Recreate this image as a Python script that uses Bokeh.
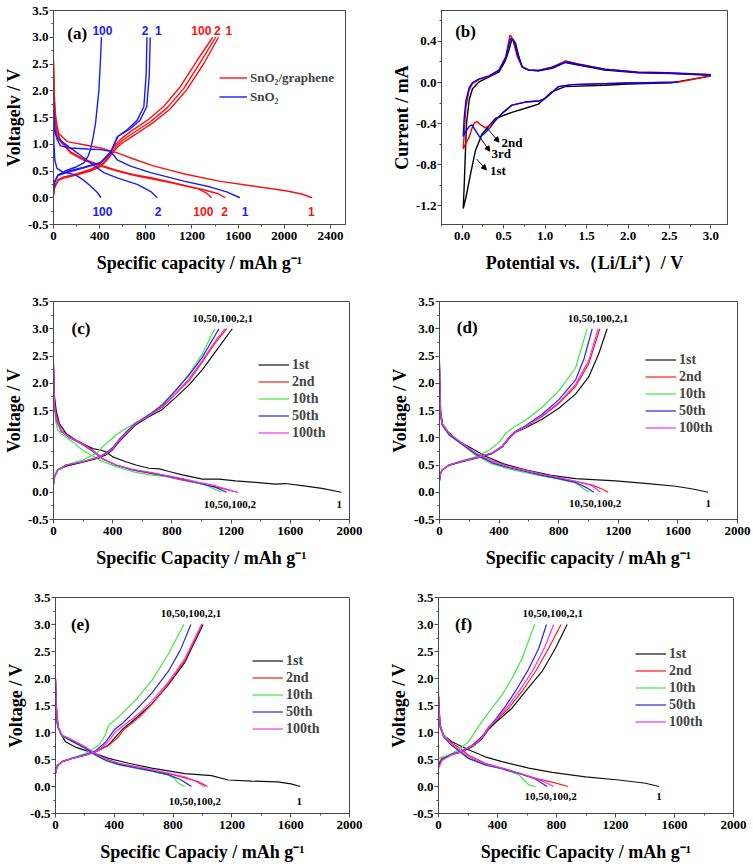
from bokeh.plotting import figure
from bokeh.models import Range1d, FixedTicker, Legend, LegendItem, Label, Arrow, NormalHead, PrintfTickFormatter
from bokeh.layouts import column, row
from bokeh.embed import file_html
from bokeh.resources import INLINE

# ---------------- data: panel (a)  (capacity mAh/g, voltage V) ----------------
a_red_dis_1 = [(0,2.6),(5,2.0),(15,1.6),(30,1.35),(46,1.2),(118,1.05),(263,0.99),(407,0.93),(552,0.84),(700,0.72),(858,0.60),(1000,0.52),(1146,0.44),(1435,0.31),(1724,0.22),(2013,0.13),(2150,0.07),(2240,0.0)]
a_red_dis_2 = [(0,2.5),(5,1.9),(15,1.5),(30,1.25),(61,1.08),(147,0.86),(263,0.72),(407,0.61),(552,0.51),(696,0.43),(858,0.37),(1000,0.30),(1150,0.22),(1300,0.15),(1420,0.08),(1490,0.0)]
a_red_dis_100 = [(0,2.4),(5,1.8),(15,1.45),(30,1.2),(61,1.05),(147,0.84),(263,0.70),(407,0.59),(552,0.50),(696,0.42),(858,0.35),(1000,0.29),(1150,0.22),(1250,0.17),(1330,0.08),(1370,0.0)]
a_red_chg_1 = [(0,0.05),(10,0.2),(40,0.32),(90,0.37),(205,0.43),(320,0.50),(407,0.58),(470,0.72),(510,0.83),(565,0.97),(620,1.06),(720,1.2),(860,1.4),(1010,1.66),(1155,2.02),(1300,2.5),(1430,3.0)]
a_red_chg_2 = [(0,0.05),(10,0.2),(40,0.33),(90,0.38),(205,0.44),(320,0.52),(407,0.60),(460,0.72),(494,0.82),(551,0.98),(600,1.08),(696,1.22),(840,1.42),(984,1.68),(1128,2.04),(1272,2.53),(1405,3.0)]
a_red_chg_100 = [(0,0.06),(10,0.21),(40,0.34),(90,0.39),(205,0.45),(320,0.53),(400,0.62),(450,0.74),(485,0.84),(540,1.0),(585,1.1),(675,1.25),(815,1.45),(960,1.72),(1100,2.08),(1245,2.57),(1380,3.0)]
a_blue_dis_1 = [(0,1.9),(5,1.45),(15,1.25),(30,1.1),(60,0.97),(147,0.93),(300,0.91),(407,0.90),(494,0.87),(552,0.71),(667,0.59),(841,0.47),(1130,0.31),(1361,0.20),(1500,0.11),(1615,0.0)]
a_blue_dis_2 = [(0,1.6),(5,1.35),(15,1.2),(40,1.1),(90,1.02),(205,0.84),(321,0.65),(436,0.47),(552,0.37),(725,0.25),(840,0.12),(900,0.0)]
a_blue_dis_100 = [(0,1.6),(4,1.0),(12,0.7),(30,0.55),(80,0.48),(150,0.45),(205,0.41),(260,0.33),(321,0.22),(380,0.10),(410,0.0)]
a_blue_chg_1 = [(0,0.15),(10,0.3),(40,0.43),(118,0.49),(263,0.57),(407,0.66),(494,0.85),(560,1.15),(660,1.28),(750,1.45),(808,1.7),(830,2.3),(838,3.0)]
a_blue_chg_2 = [(0,0.15),(10,0.3),(40,0.42),(118,0.47),(263,0.56),(407,0.65),(494,0.84),(552,1.14),(638,1.27),(725,1.45),(783,1.70),(803,2.31),(810,3.0)]
a_blue_chg_100 = [(0,0.2),(10,0.3),(40,0.42),(100,0.5),(200,0.58),(263,0.65),(300,0.78),(321,0.90),(345,1.15),(364,1.39),(393,2.0),(408,2.62),(415,3.0)]

# ---------------- data: panel (b)  (potential V, current mA) ----------------
b_1st = [(3.0,0.065),(2.52,-0.003),(2.0,-0.015),(1.72,-0.026),(1.24,-0.04),(1.08,-0.09),(0.92,-0.21),(0.80,-0.24),(0.60,-0.29),(0.40,-0.35),(0.24,-0.5),(0.16,-0.66),(0.10,-0.89),(0.044,-1.12),(0.012,-1.225),(0.024,-1.0),(0.036,-0.73),(0.052,-0.40),(0.084,-0.17),(0.124,-0.06),(0.204,0.007),(0.324,0.055),(0.444,0.104),(0.524,0.218),(0.564,0.315),(0.596,0.413),(0.612,0.42),(0.644,0.38),(0.684,0.25),(0.724,0.153),(0.804,0.12),(0.924,0.114),(1.084,0.137),(1.244,0.195),(1.40,0.17),(1.72,0.12),(2.12,0.094),(2.52,0.088),(3.0,0.07)]
b_2nd = [(3.0,0.065),(2.6,0.003),(2.0,-0.005),(1.32,-0.02),(1.16,-0.04),(1.08,-0.1),(1.0,-0.156),(0.92,-0.18),(0.76,-0.19),(0.60,-0.22),(0.48,-0.30),(0.36,-0.40),(0.28,-0.44),(0.22,-0.41),(0.18,-0.38),(0.15,-0.39),(0.124,-0.43),(0.084,-0.53),(0.044,-0.59),(0.012,-0.645),(0.024,-0.5),(0.044,-0.24),(0.084,-0.075),(0.124,-0.01),(0.204,0.03),(0.324,0.06),(0.444,0.12),(0.524,0.25),(0.556,0.38),(0.576,0.46),(0.596,0.445),(0.624,0.38),(0.664,0.25),(0.724,0.15),(0.804,0.12),(0.924,0.12),(1.084,0.15),(1.244,0.21),(1.30,0.20),(1.404,0.18),(1.72,0.13),(2.12,0.10),(2.44,0.095),(2.52,0.09),(3.0,0.075)]
b_3rd = [(2.6,0.003),(2.0,-0.005),(1.32,-0.02),(1.16,-0.04),(1.08,-0.1),(1.0,-0.156),(0.92,-0.18),(0.76,-0.19),(0.60,-0.22),(0.48,-0.30),(0.40,-0.37),(0.324,-0.45),(0.26,-0.50),(0.212,-0.53),(0.17,-0.48),(0.116,-0.41),(0.08,-0.43),(0.04,-0.48),(0.012,-0.525),(0.024,-0.34),(0.044,-0.18),(0.084,-0.05),(0.124,0.0),(0.204,0.035),(0.324,0.065),(0.444,0.12),(0.524,0.24),(0.560,0.36),(0.584,0.43),(0.610,0.42),(0.64,0.35),(0.68,0.24),(0.724,0.15),(0.804,0.12),(0.924,0.115),(1.084,0.15),(1.26,0.2),(1.404,0.175),(1.72,0.13),(2.12,0.10),(2.48,0.095),(3.0,0.075)]

# ---------------- data: panel (c) ----------------
c_dis_1st = [(0,2.4),(3,2.0),(7,1.75),(18,1.5),(40,1.26),(85,1.08),(153,0.955),(220,0.86),(265,0.80),(310,0.78),(355,0.74),(400,0.65),(489,0.56),(557,0.50),(646,0.44),(714,0.43),(781,0.38),(871,0.32),(1006,0.24),(1118,0.24),(1230,0.21),(1365,0.18),(1500,0.15),(1567,0.16),(1679,0.12),(1814,0.07),(1945,0.0)]
c_dis_2nd = [(0,2.3),(3,1.9),(7,1.6),(22,1.38),(52,1.14),(108,1.02),(198,0.89),(265,0.77),(332,0.62),(422,0.50),(534,0.41),(646,0.35),(759,0.29),(871,0.22),(983,0.16),(1095,0.10),(1245,0.0)]
c_dis_10th = [(0,2.2),(3,1.8),(8,1.5),(15,1.3),(29,1.14),(63,1.05),(130,0.92),(198,0.77),(310,0.59),(422,0.47),(534,0.38),(646,0.32),(759,0.29),(871,0.24),(1028,0.13),(1135,0.0)]
c_dis_50th = [(0,2.3),(3,1.9),(8,1.55),(22,1.3),(52,1.12),(108,1.0),(198,0.87),(265,0.75),(332,0.61),(422,0.50),(534,0.41),(646,0.36),(759,0.30),(871,0.24),(983,0.17),(1095,0.09),(1170,0.0)]
c_dis_100th = [(0,2.35),(3,1.9),(8,1.55),(22,1.32),(52,1.13),(108,1.01),(198,0.88),(265,0.76),(332,0.61),(422,0.50),(534,0.42),(646,0.37),(759,0.31),(871,0.25),(983,0.18),(1095,0.12),(1238,0.0)]
c_chg_1st = [(0,0.14),(7,0.29),(29,0.41),(85,0.48),(198,0.55),(310,0.63),(355,0.69),(400,0.78),(444,0.93),(489,1.06),(557,1.24),(646,1.39),(736,1.52),(826,1.74),(916,1.97),(1006,2.25),(1095,2.58),(1208,3.0)]
c_chg_2nd = [(0,0.16),(7,0.29),(29,0.41),(85,0.50),(198,0.56),(310,0.65),(355,0.71),(400,0.80),(444,0.95),(489,1.08),(557,1.26),(646,1.41),(736,1.56),(826,1.81),(916,2.05),(1006,2.39),(1095,2.75),(1170,3.0)]
c_chg_10th = [(0,0.15),(18,0.38),(85,0.50),(198,0.59),(287,0.71),(355,0.89),(422,1.05),(489,1.17),(602,1.35),(714,1.56),(826,1.87),(916,2.17),(1006,2.54),(1089,3.0)]
c_chg_50th = [(0,0.15),(7,0.29),(29,0.41),(85,0.50),(198,0.56),(310,0.65),(355,0.72),(400,0.82),(444,0.97),(489,1.10),(557,1.27),(646,1.42),(736,1.60),(826,1.87),(916,2.15),(1006,2.48),(1118,3.0)]
c_chg_100th = [(0,0.16),(7,0.29),(29,0.41),(85,0.50),(198,0.56),(310,0.65),(355,0.71),(400,0.80),(444,0.95),(489,1.08),(557,1.26),(646,1.41),(736,1.57),(826,1.82),(916,2.08),(1006,2.42),(1095,2.78),(1158,3.0)]

# ---------------- data: panel (d) ----------------
d_dis_1st = [(0,2.4),(3,1.9),(8,1.5),(20,1.25),(60,1.1),(120,0.95),(200,0.83),(309,0.66),(430,0.52),(577,0.41),(750,0.31),(913,0.25),(1181,0.21),(1400,0.16),(1584,0.11),(1700,0.06),(1803,0.0)]
d_dis_2nd = [(0,2.3),(3,1.8),(8,1.4),(18,1.25),(63,1.08),(152,0.90),(242,0.72),(353,0.57),(465,0.47),(577,0.40),(689,0.33),(801,0.26),(913,0.20),(1025,0.13),(1090,0.06),(1132,0.0)]
d_dis_10th = [(0,2.2),(3,1.8),(8,1.4),(18,1.22),(63,1.05),(152,0.87),(242,0.68),(353,0.52),(465,0.43),(577,0.36),(689,0.30),(801,0.24),(913,0.17),(960,0.08),(1002,0.0)]
d_dis_50th = [(0,2.3),(3,1.8),(8,1.4),(18,1.24),(63,1.06),(152,0.88),(242,0.70),(353,0.54),(465,0.45),(577,0.38),(689,0.31),(801,0.25),(913,0.18),(990,0.08),(1036,0.0)]
d_dis_100th = [(0,2.35),(3,1.85),(8,1.45),(18,1.26),(63,1.08),(152,0.90),(242,0.72),(353,0.57),(465,0.47),(577,0.40),(689,0.33),(801,0.27),(913,0.20),(1025,0.12),(1080,0.0)]
d_chg_1st = [(0,0.20),(8,0.35),(18,0.41),(63,0.49),(152,0.56),(242,0.62),(353,0.71),(421,0.83),(465,0.98),(510,1.10),(577,1.18),(689,1.34),(801,1.54),(913,1.80),(1002,2.12),(1070,2.55),(1125,3.0)]
d_chg_2nd = [(0,0.23),(8,0.35),(18,0.41),(63,0.50),(152,0.57),(242,0.63),(353,0.72),(421,0.84),(465,0.99),(510,1.11),(577,1.20),(689,1.39),(801,1.63),(913,1.94),(1002,2.36),(1076,3.0)]
d_chg_10th = [(0,0.22),(8,0.36),(18,0.42),(63,0.50),(152,0.58),(242,0.65),(330,0.76),(400,0.92),(445,1.08),(490,1.18),(577,1.32),(689,1.56),(801,1.86),(913,2.28),(991,3.0)]
d_chg_50th = [(0,0.22),(8,0.35),(18,0.41),(63,0.50),(152,0.57),(242,0.63),(353,0.72),(421,0.85),(465,1.00),(510,1.12),(577,1.22),(689,1.43),(801,1.70),(913,2.06),(970,2.45),(1025,3.0)]
d_chg_100th = [(0,0.23),(8,0.35),(18,0.41),(63,0.50),(152,0.57),(242,0.63),(353,0.72),(421,0.84),(465,0.99),(510,1.11),(577,1.20),(689,1.40),(801,1.65),(913,1.98),(1002,2.42),(1065,3.0)]

# ---------------- data: panel (e) ----------------
e_dis_1st = [(0,2.0),(3,1.7),(5,1.47),(11,1.16),(34,0.98),(68,0.83),(135,0.73),(203,0.67),(271,0.61),(361,0.52),(497,0.43),(655,0.34),(880,0.24),(1061,0.20),(1174,0.12),(1332,0.10),(1512,0.085),(1602,0.05),(1666,0.0)]
e_dis_2nd = [(0,2.0),(3,1.7),(5,1.53),(18,1.10),(45,0.95),(113,0.86),(203,0.73),(271,0.61),(339,0.51),(429,0.43),(542,0.37),(655,0.31),(767,0.24),(880,0.16),(971,0.09),(1034,0.0)]
e_dis_10th = [(0,1.9),(3,1.6),(5,1.45),(18,1.08),(45,0.93),(113,0.83),(203,0.70),(271,0.58),(339,0.48),(429,0.40),(542,0.34),(655,0.28),(767,0.21),(810,0.15),(835,0.06),(880,0.0)]
e_dis_50th = [(0,1.95),(3,1.65),(5,1.5),(18,1.09),(45,0.94),(113,0.84),(203,0.71),(271,0.59),(339,0.49),(429,0.41),(542,0.35),(655,0.29),(767,0.22),(850,0.13),(925,0.0)]
e_dis_100th = [(0,2.0),(3,1.7),(5,1.52),(18,1.10),(45,0.95),(113,0.86),(203,0.73),(271,0.61),(339,0.51),(429,0.43),(542,0.37),(655,0.31),(767,0.25),(880,0.18),(960,0.09),(1016,0.0)]
e_chg_1st = [(0,0.24),(11,0.37),(45,0.46),(113,0.52),(203,0.58),(271,0.64),(361,0.77),(429,0.98),(463,1.08),(519,1.20),(587,1.36),(655,1.53),(767,1.88),(880,2.30),(1004,3.0)]
e_chg_2nd = [(0,0.24),(11,0.37),(45,0.46),(113,0.52),(203,0.58),(271,0.64),(361,0.76),(429,0.92),(463,1.05),(519,1.17),(587,1.33),(655,1.52),(767,1.90),(880,2.33),(998,3.0)]
e_chg_10th = [(0,0.30),(11,0.40),(45,0.46),(113,0.53),(203,0.61),(293,0.76),(339,0.95),(361,1.13),(429,1.29),(542,1.59),(655,1.96),(767,2.45),(873,3.0)]
e_chg_50th = [(0,0.26),(11,0.38),(45,0.46),(113,0.52),(203,0.59),(271,0.66),(340,0.82),(400,1.05),(460,1.18),(542,1.40),(655,1.73),(767,2.13),(850,2.53),(921,3.0)]
e_chg_100th = [(0,0.25),(11,0.37),(45,0.46),(113,0.52),(203,0.58),(271,0.64),(350,0.80),(410,1.02),(463,1.13),(530,1.27),(587,1.40),(655,1.58),(767,1.93),(880,2.37),(993,3.0)]

# ---------------- data: panel (f) ----------------
f_dis_1st = [(0,1.69),(5,1.4),(11,1.14),(34,0.95),(91,0.83),(204,0.68),(317,0.55),(430,0.46),(612,0.34),(770,0.26),(997,0.18),(1223,0.12),(1404,0.06),(1495,0.0)]
f_dis_2nd = [(0,1.69),(5,1.4),(11,1.14),(34,0.95),(91,0.80),(159,0.68),(204,0.58),(317,0.43),(430,0.34),(544,0.25),(657,0.15),(770,0.08),(879,0.0)]
f_dis_10th = [(0,1.6),(5,1.3),(11,1.08),(68,0.83),(136,0.65),(204,0.52),(317,0.40),(430,0.33),(544,0.22),(578,0.12),(612,0.03),(657,0.0)]
f_dis_50th = [(0,1.65),(5,1.35),(11,1.1),(34,0.92),(91,0.76),(159,0.62),(204,0.52),(317,0.40),(430,0.33),(544,0.24),(657,0.14),(736,0.0)]
f_dis_100th = [(0,1.7),(5,1.4),(11,1.12),(34,0.94),(91,0.78),(159,0.64),(204,0.55),(317,0.42),(430,0.34),(544,0.25),(657,0.15),(730,0.07),(781,0.0)]
f_chg_1st = [(0,0.40),(23,0.50),(91,0.59),(159,0.64),(226,0.73),(294,0.88),(340,1.06),(385,1.18),(498,1.45),(589,1.76),(702,2.13),(793,2.56),(872,3.0)]
f_chg_2nd = [(0,0.43),(23,0.52),(91,0.60),(159,0.65),(226,0.74),(294,0.89),(340,1.08),(385,1.21),(476,1.45),(566,1.76),(657,2.13),(747,2.56),(831,3.0)]
f_chg_10th = [(0,0.52),(68,0.58),(136,0.68),(204,0.83),(249,1.02),(294,1.20),(362,1.45),(430,1.69),(498,2.0),(566,2.37),(652,3.0)]
f_chg_50th = [(0,0.38),(23,0.50),(91,0.60),(159,0.66),(226,0.76),(294,0.92),(340,1.10),(385,1.24),(450,1.47),(530,1.80),(610,2.17),(680,2.56),(732,3.0)]
f_chg_100th = [(0,0.33),(23,0.48),(91,0.59),(159,0.65),(226,0.75),(294,0.90),(340,1.09),(385,1.22),(460,1.45),(550,1.78),(640,2.15),(720,2.58),(781,3.0)]

cycle_names = ["1st", "2nd", "10th", "50th", "100th"]
volt_ticks = [-0.5, 0.0, 0.5, 1.0, 1.5, 2.0, 2.5, 3.0, 3.5]
volt_minor = [-0.25, 0.25, 0.75, 1.25, 1.75, 2.25, 2.75, 3.25]
cap_ticks_a = [0, 400, 800, 1200, 1600, 2000, 2400]
cap_minor_a = [200, 600, 1000, 1400, 1800, 2200]
cap_ticks = [0, 400, 800, 1200, 1600, 2000]
cap_minor = [200, 600, 1000, 1400, 1800]
pot_ticks = [0.0, 0.5, 1.0, 1.5, 2.0, 2.5, 3.0]
pot_minor = [-0.25, 0.25, 0.75, 1.25, 1.75, 2.25, 2.75]
cur_ticks = [-1.2, -0.8, -0.4, 0.0, 0.4]
cur_minor = [-1.4, -1.0, -0.6, -0.2, 0.2, 0.6]

SERIF = "Liberation Serif"
SANS = "Liberation Sans"
FRAME = "#4a4a4a"
CYC_COLORS = ["#111111", "#ff1a1a", "#3ee83e", "#2626e6", "#ee33ee"]
RED = "#ff1010"
BLUE = "#1a1aff"


def make_fig(w, h, xr, yr, bl, br, bt, bb):
    p = figure(width=w, height=h, x_range=Range1d(*xr), y_range=Range1d(*yr),
               output_backend="svg", toolbar_location=None,
               min_border_left=bl, min_border_right=br, min_border_top=bt, min_border_bottom=bb)
    p.xgrid.visible = False
    p.ygrid.visible = False
    p.outline_line_color = FRAME
    p.outline_line_width = 1
    p.outline_line_alpha = 1
    return p


def style_axis(ax, label, ticks, minor, fmt=None, label_standoff=6, tick_standoff=2):
    ax.axis_label = label
    ax.ticker = FixedTicker(ticks=ticks, minor_ticks=minor)
    if fmt:
        ax.formatter = PrintfTickFormatter(format=fmt)
    ax.axis_label_text_font = SERIF
    ax.axis_label_text_font_style = "bold"
    ax.axis_label_text_font_size = "18px"
    ax.axis_label_text_color = "black"
    ax.major_label_text_font = SERIF
    ax.major_label_text_font_style = "bold"
    ax.major_label_text_font_size = "13px"
    ax.major_label_text_color = "black"
    ax.axis_line_color = FRAME
    ax.major_tick_line_color = FRAME
    ax.minor_tick_line_color = FRAME
    ax.major_tick_out = 4
    ax.major_tick_in = 0
    ax.minor_tick_out = 2
    ax.minor_tick_in = 0
    ax.major_label_standoff = tick_standoff
    ax.axis_label_standoff = label_standoff


def style_xy(p, xlabel, xt, xm, xfmt, ylabel, yt, ym, yfmt):
    style_axis(p.xaxis[0], xlabel, xt, xm, xfmt, label_standoff=10, tick_standoff=3)
    style_axis(p.yaxis[0], ylabel, yt, ym, yfmt, label_standoff=1, tick_standoff=1)


def curve(p, pts, color, width=1.2):
    return p.line([q[0] for q in pts], [q[1] for q in pts], line_color=color, line_width=width)


def text(p, x, y, t, size="11px", color="black", font=SERIF, align="center"):
    p.add_layout(Label(x=x, y=y, text=t, text_font=font, text_font_style="bold",
                       text_font_size=size, text_color=color, text_align=align,
                       text_baseline="middle"))


def legend(p, items, loc, glyph_w=31, row_h=17, size="14px"):
    lg = Legend(items=items, location=loc, orientation="vertical")
    lg.label_text_font = SERIF
    lg.label_text_font_style = "bold"
    lg.label_text_font_size = size
    lg.glyph_width = glyph_w
    lg.glyph_height = row_h
    lg.label_height = row_h
    lg.label_standoff = 3
    lg.spacing = 0
    lg.padding = 0
    lg.margin = 0
    lg.border_line_alpha = 0
    lg.background_fill_alpha = 0
    p.add_layout(lg)


# ---------------- panel (a) ----------------
pa = make_fig(376, 290, (0, 2530), (-0.5, 3.5), 51, 31, 10, 63)
style_xy(pa, "Specific capacity / mAh g\u207b\u00b9", cap_ticks_a, cap_minor_a, None,
         "Voltagelv / V", volt_ticks, volt_minor, "%.1f")
r_red = None
for pts in [a_red_dis_1, a_red_dis_2, a_red_dis_100, a_red_chg_1, a_red_chg_2, a_red_chg_100]:
    r = curve(pa, pts, RED, 1.4)
    r_red = r_red or r
r_blue = None
for pts in [a_blue_dis_1, a_blue_dis_2, a_blue_dis_100, a_blue_chg_1, a_blue_chg_2, a_blue_chg_100]:
    r = curve(pa, pts, BLUE, 1.4)
    r_blue = r_blue or r
legend(pa, [LegendItem(label="SnO\u2082/graphene", renderers=[r_red]),
            LegendItem(label="SnO\u2082", renderers=[r_blue])], (166, 118), glyph_w=28, row_h=19, size="13px")
a_top_labels = [(424, "100", BLUE), (793, "2", BLUE), (908, "1", BLUE), (1281, "100", RED), (1419, "2", RED), (1520, "1", RED)]
a_bot_labels = [(424, "100", BLUE), (906, "2", BLUE), (1298, "100", RED), (1483, "2", RED), (1659, "1", BLUE), (2235, "1", RED)]
for x, t, c in a_top_labels:
    text(pa, x, 3.12, t, "12px", c, SANS)
for x, t, c in a_bot_labels:
    text(pa, x, -0.25, t, "12px", c, SANS)
text(pa, 205, 3.07, "(a)", "17px")

# ---------------- panel (b) ----------------
pb = make_fig(377, 290, (-0.25, 3.2), (-1.38, 0.70), 65, 26, 8, 66)
style_xy(pb, "Potential vs.\uff08Li/Li\u207a\uff09/ V", pot_ticks, pot_minor, "%.1f",
         "Current / mA", cur_ticks, cur_minor, "%.1f")
curve(pb, b_1st, "#000000", 1.4)
curve(pb, b_2nd, "#ff0000", 1.4)
curve(pb, b_3rd, "#0000ff", 1.4)
b_arrows = [((0.296, -0.44), (0.444, -0.58)), ((0.212, -0.53), (0.332, -0.668)), ((0.172, -0.743), (0.292, -0.85))]
for (x0, y0), (x1, y1) in b_arrows:
    pb.add_layout(Arrow(end=NormalHead(size=5, fill_color="black", line_color="black"),
                        x_start=x0, y_start=y0, x_end=x1, y_end=y1, line_width=1, line_color="black"))
b_labels = [(0.60, -0.58, "2nd"), (0.47, -0.694, "3rd"), (0.43, -0.857, "1st")]
for x, y, t in b_labels:
    text(pb, x, y, t, "13px")
text(pb, 0.04, 0.50, "(b)", "17px")


# ---------------- panels (c)-(f) ----------------
def galvano(p, letter, dis, chg, leg_loc, top_lab, bot_lab, one_x, letter_xy, xlabel):
    style_xy(p, xlabel, cap_ticks, cap_minor, None, "Voltage / V", volt_ticks, volt_minor, "%.1f")
    items = []
    for name, d, c, col in zip(cycle_names, dis, chg, CYC_COLORS):
        r = curve(p, d, col)
        curve(p, c, col)
        items.append(LegendItem(label=name, renderers=[r]))
    legend(p, items, leg_loc)
    text(p, top_lab[0], top_lab[1], "10,50,100,2,1")
    text(p, bot_lab[0], bot_lab[1], "10,50,100,2")
    text(p, one_x, bot_lab[1], "1")
    text(p, letter_xy[0], letter_xy[1], letter, "17px")


pc = make_fig(376, 290, (0, 2000), (-0.5, 3.5), 52, 27, 10, 61)
galvano(pc, "(c)", [c_dis_1st, c_dis_2nd, c_dis_10th, c_dis_50th, c_dis_100th],
        [c_chg_1st, c_chg_2nd, c_chg_10th, c_chg_50th, c_chg_100th],
        (205, 78), (1143, 3.18), (1192, -0.23), 1930, (186, 3.0), "Specific Capacity / mAh g\u207b\u00b9")
pd_ = make_fig(377, 290, (0, 2000), (-0.5, 3.5), 63, 16, 11, 59)
galvano(pd_, "(d)", [d_dis_1st, d_dis_2nd, d_dis_10th, d_dis_50th, d_dis_100th],
        [d_chg_1st, d_chg_2nd, d_chg_10th, d_chg_50th, d_chg_100th],
        (206, 83), (1063, 3.18), (1045, -0.2), 1803, (186, 3.03), "Specific capacity / mAh g\u207b\u00b9")
pe = make_fig(376, 287, (0, 2000), (-0.5, 3.5), 55, 27, 17, 52)
galvano(pe, "(e)", [e_dis_1st, e_dis_2nd, e_dis_10th, e_dis_50th, e_dis_100th],
        [e_chg_1st, e_chg_2nd, e_chg_10th, e_chg_50th, e_chg_100th],
        (197, 76), (921, 3.21), (948, -0.27), 1659, (169, 3.0), "Specific Capaciy / mAh g\u207b\u00b9")
pf = make_fig(377, 287, (0, 2000), (-0.5, 3.5), 62, 20, 16, 54)
galvano(pf, "(f)", [f_dis_1st, f_dis_2nd, f_dis_10th, f_dis_50th, f_dis_100th],
        [f_chg_1st, f_chg_2nd, f_chg_10th, f_chg_50th, f_chg_100th],
        (197, 83), (775, 3.2), (761, -0.19), 1495, (170, 3.0), "Specific Capacity / mAh g\u207b\u00b9")

layout = column(row(pa, pb), row(pc, pd_), row(pe, pf))
open("out.html", "w").write(file_html(layout, INLINE))
